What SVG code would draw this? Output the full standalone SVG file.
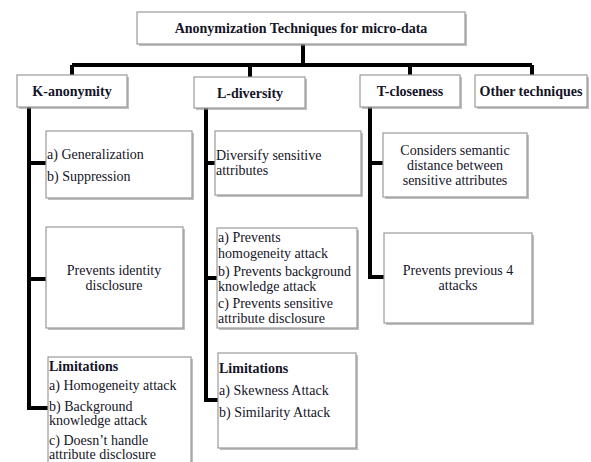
<svg xmlns="http://www.w3.org/2000/svg" width="591" height="462" viewBox="0 0 591 462">
<style>
.box{fill:#fff;stroke:#9a9a9a;stroke-width:1.2}
.sh{fill:#8a8a8a;opacity:0.55}
.t{font-family:"Liberation Serif","Times New Roman",serif;font-size:14px;fill:#141428}
.b{font-weight:bold;font-size:14px}
.c{text-anchor:middle}
.ln{fill:none;stroke:#000;stroke-width:4;stroke-linejoin:miter}
</style>
<rect width="591" height="462" fill="#fff"/>
<g id="connectors" class="ln">
<path d="M303,44 V65 M72,65 H532 M72,65 V75 M250,65 V77 M410,65 V75 M532,65 V75"/>
<path d="M29,107 V408 H48 M29,163 H46 M29,279 H46"/>
<path d="M206,108 V400 H218 M206,163 H215 M206,278 H217"/>
<path d="M370,107 V277 H384 M370,163 H383"/>
</g>
<g id="root">
<rect class="sh" x="139" y="14" width="328" height="32"/>
<rect class="box" x="137" y="12" width="328" height="32"/>
<text class="t b c" x="301" y="33">Anonymization Techniques for micro-data</text>
</g>
<g id="k-anonymity">
<rect class="sh" x="19" y="77" width="110" height="32"/>
<rect class="box" x="17" y="75" width="110" height="32"/>
<text class="t b c" x="72" y="96">K-anonymity</text>
</g>
<g id="l-diversity">
<rect class="sh" x="196" y="79" width="111" height="31"/>
<rect class="box" x="194" y="77" width="111" height="31"/>
<text class="t b c" x="250" y="98">L-diversity</text>
</g>
<g id="t-closeness">
<rect class="sh" x="362" y="77" width="100" height="32"/>
<rect class="box" x="360" y="75" width="100" height="32"/>
<text class="t b c" x="410" y="96">T-closeness</text>
</g>
<g id="other">
<rect class="sh" x="477" y="77" width="112" height="32"/>
<rect class="box" x="475" y="75" width="112" height="32"/>
<text class="t b c" x="531" y="96">Other techniques</text>
</g>
<g id="k1">
<rect class="sh" x="48" y="133" width="146" height="67"/>
<rect class="box" x="46" y="131" width="146" height="67"/>
<text class="t" x="47" y="159">a) Generalization</text>
<text class="t" x="47" y="181">b) Suppression</text>
</g>
<g id="k2">
<rect class="sh" x="48" y="229" width="137" height="101"/>
<rect class="box" x="46" y="227" width="137" height="101"/>
<text class="t c" x="114" y="275">Prevents identity</text>
<text class="t c" x="114" y="290">disclosure</text>
</g>
<g id="k3">
<rect class="sh" x="50" y="359" width="143" height="120"/>
<rect class="box" x="48" y="357" width="143" height="120"/>
<text class="t b" x="49" y="371">Limitations</text>
<text class="t" x="49" y="390">a) Homogeneity attack</text>
<text class="t" x="49" y="411">b) Background</text>
<text class="t" x="49" y="425">knowledge attack</text>
<text class="t" x="49" y="445">c) Doesn’t handle</text>
<text class="t" x="49" y="459">attribute disclosure</text>
</g>
<g id="l1">
<rect class="sh" x="217" y="133" width="146" height="64"/>
<rect class="box" x="215" y="131" width="146" height="64"/>
<text class="t" x="216" y="160">Diversify sensitive</text>
<text class="t" x="216" y="175">attributes</text>
</g>
<g id="l2">
<rect class="sh" x="219" y="230" width="140" height="100"/>
<rect class="box" x="217" y="228" width="140" height="100"/>
<text class="t" x="218" y="242">a) Prevents</text>
<text class="t" x="218" y="258">homogeneity attack</text>
<text class="t" x="218" y="276">b) Prevents background</text>
<text class="t" x="218" y="291">knowledge attack</text>
<text class="t" x="218" y="308">c) Prevents sensitive</text>
<text class="t" x="218" y="323">attribute disclosure</text>
</g>
<g id="l3">
<rect class="sh" x="220" y="355" width="138" height="95"/>
<rect class="box" x="218" y="353" width="138" height="95"/>
<text class="t b" x="219" y="373">Limitations</text>
<text class="t" x="219" y="395">a) Skewness Attack</text>
<text class="t" x="219" y="417">b) Similarity Attack</text>
</g>
<g id="t1">
<rect class="sh" x="385" y="135" width="144" height="64"/>
<rect class="box" x="383" y="133" width="144" height="64"/>
<text class="t c" x="455" y="155">Considers semantic</text>
<text class="t c" x="455" y="170">distance between</text>
<text class="t c" x="455" y="185">sensitive attributes</text>
</g>
<g id="t2">
<rect class="sh" x="386" y="235" width="148" height="90"/>
<rect class="box" x="384" y="233" width="148" height="90"/>
<text class="t c" x="458" y="275">Prevents previous 4</text>
<text class="t c" x="458" y="290">attacks</text>
</g>
</svg>
